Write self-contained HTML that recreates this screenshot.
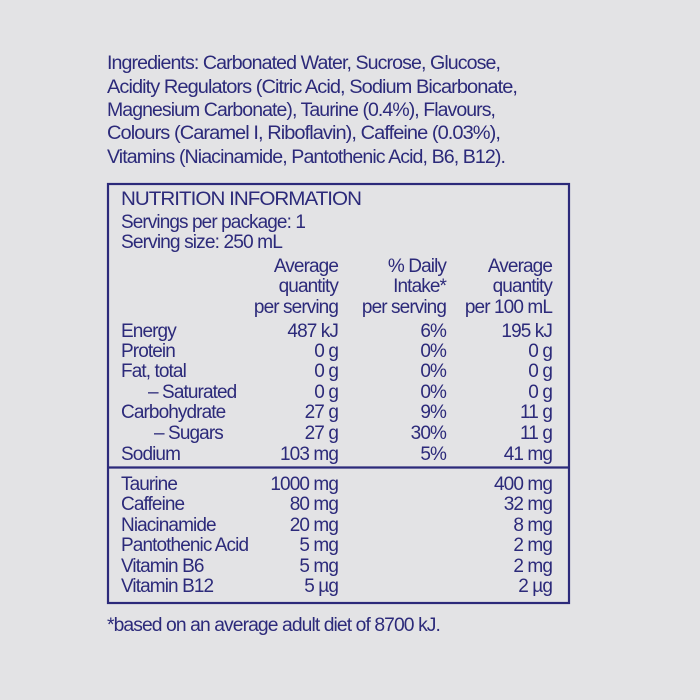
<!DOCTYPE html>
<html><head><meta charset="utf-8"><style>
html,body{margin:0;padding:0;background:#e3e3e5;}
svg{display:block}
text{font-family:"Liberation Sans Narrow","Liberation Sans",sans-serif;font-size:19px;fill:#2c2a7a;letter-spacing:-0.9px;}
.r{text-anchor:end}
</style></head><body>
<svg width="700" height="700" viewBox="0 0 700 700">
<rect width="700" height="700" fill="#e3e3e5"/>
<g>
<text x="107" y="69" textLength="393" lengthAdjust="spacingAndGlyphs">Ingredients: Carbonated Water, Sucrose, Glucose,</text>
<text x="107" y="93" textLength="410" lengthAdjust="spacingAndGlyphs">Acidity Regulators (Citric Acid, Sodium Bicarbonate,</text>
<text x="107" y="116" textLength="388" lengthAdjust="spacingAndGlyphs">Magnesium Carbonate), Taurine (0.4%), Flavours,</text>
<text x="107" y="139" textLength="393" lengthAdjust="spacingAndGlyphs">Colours (Caramel I, Riboflavin), Caffeine (0.03%),</text>
<text x="107" y="163" textLength="398" lengthAdjust="spacingAndGlyphs">Vitamins (Niacinamide, Pantothenic Acid, B6, B12).</text>
</g>
<rect x="108" y="184" width="461" height="419" fill="none" stroke="#2c2a7a" stroke-width="2.2"/>
<line x1="108" y1="467.5" x2="569" y2="467.5" stroke="#2c2a7a" stroke-width="2.2"/>
<text x="121" y="205" textLength="240" lengthAdjust="spacingAndGlyphs">NUTRITION INFORMATION</text>
<text x="121" y="228" textLength="184" lengthAdjust="spacingAndGlyphs">Servings per package: 1</text>
<text x="121" y="248" textLength="161" lengthAdjust="spacingAndGlyphs">Serving size: 250 mL</text>
<text class="r" x="338" y="272">Average</text>
<text class="r" x="338" y="292">quantity</text>
<text class="r" x="338" y="313">per serving</text>
<text class="r" x="446" y="272">% Daily</text>
<text class="r" x="446" y="292">Intake*</text>
<text class="r" x="446" y="313">per serving</text>
<text class="r" x="552" y="272">Average</text>
<text class="r" x="552" y="292">quantity</text>
<text class="r" x="552" y="313">per 100 mL</text>
<text x="121" y="337">Energy</text><text class="r" x="338" y="337">487 kJ</text><text class="r" x="446" y="337">6%</text><text class="r" x="552" y="337">195 kJ</text>
<text x="121" y="357">Protein</text><text class="r" x="338" y="357">0 g</text><text class="r" x="446" y="357">0%</text><text class="r" x="552" y="357">0 g</text>
<text x="121" y="377">Fat, total</text><text class="r" x="338" y="377">0 g</text><text class="r" x="446" y="377">0%</text><text class="r" x="552" y="377">0 g</text>
<text x="148" y="398">– Saturated</text><text class="r" x="338" y="398">0 g</text><text class="r" x="446" y="398">0%</text><text class="r" x="552" y="398">0 g</text>
<text x="121" y="418">Carbohydrate</text><text class="r" x="338" y="418">27 g</text><text class="r" x="446" y="418">9%</text><text class="r" x="552" y="418">11 g</text>
<text x="154" y="439">– Sugars</text><text class="r" x="338" y="439">27 g</text><text class="r" x="446" y="439">30%</text><text class="r" x="552" y="439">11 g</text>
<text x="121" y="460">Sodium</text><text class="r" x="338" y="460">103 mg</text><text class="r" x="446" y="460">5%</text><text class="r" x="552" y="460">41 mg</text>
<text x="121" y="490">Taurine</text><text class="r" x="338" y="490">1000 mg</text><text class="r" x="552" y="490">400 mg</text>
<text x="121" y="510">Caffeine</text><text class="r" x="338" y="510">80 mg</text><text class="r" x="552" y="510">32 mg</text>
<text x="121" y="531">Niacinamide</text><text class="r" x="338" y="531">20 mg</text><text class="r" x="552" y="531">8 mg</text>
<text x="121" y="551">Pantothenic Acid</text><text class="r" x="338" y="551">5 mg</text><text class="r" x="552" y="551">2 mg</text>
<text x="121" y="572">Vitamin B6</text><text class="r" x="338" y="572">5 mg</text><text class="r" x="552" y="572">2 mg</text>
<text x="121" y="592">Vitamin B12</text><text class="r" x="338" y="592">5  µg</text><text class="r" x="552" y="592">2  µg</text>
<text x="107" y="631" textLength="333" lengthAdjust="spacingAndGlyphs">*based on an average adult diet of 8700 kJ.</text>
</svg>
</body></html>
